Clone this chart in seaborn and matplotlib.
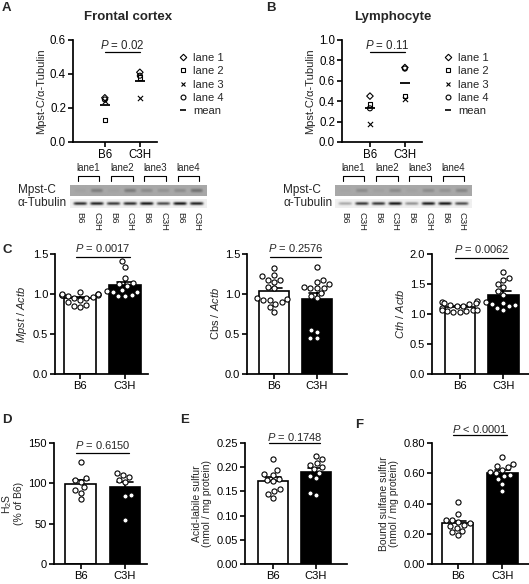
import numpy as np
import pandas as pd
import matplotlib
matplotlib.use("Agg")
import matplotlib.pyplot as plt
import matplotlib.transforms as mtransforms
from matplotlib.lines import Line2D
from matplotlib.ticker import FormatStrFormatter
import seaborn as sns

# ---------------- data ----------------
strains = ["B6", "C3H"]
lane_names = ["lane 1", "lane 2", "lane 3", "lane 4"]

# Panel A: Frontal cortex, Mpst-C/alpha-Tubulin per lane
cortex_b6 = [0.26, 0.13, 0.24, 0.25]
cortex_c3h = [0.41, 0.38, 0.26, 0.39]
cortex_p = r"$\it{P}$ = 0.02"

# Panel B: Lymphocyte
lympho_b6 = [0.45, 0.37, 0.18, 0.33]
lympho_c3h = [0.73, 0.45, 0.42, 0.72]
lympho_p = r"$\it{P}$ = 0.11"

# Western blot band intensities (relative darkness), lanes B6,C3H,B6,C3H,...
blot_groups = ["lane1", "lane2", "lane3", "lane4"]
blot_lane_labels = ["B6", "C3H", "B6", "C3H", "B6", "C3H", "B6", "C3H"]
cortex_mpst_band = [0.05, 0.30, 0.05, 0.32, 0.20, 0.15, 0.20, 0.38]
cortex_tub_band = [0.85, 0.90, 0.80, 0.85, 0.95, 0.72, 0.95, 0.90]
lympho_mpst_band = [0.03, 0.20, 0.06, 0.20, 0.05, 0.20, 0.15, 0.25]
lympho_tub_band = [0.30, 0.80, 0.80, 0.95, 0.40, 0.92, 0.95, 0.70]

# Panel C: qPCR
mpst_b6 = [1.00, 0.99, 0.99, 1.00, 1.03, 0.99, 0.98, 1.00, 0.96, 0.95, 0.93, 0.95, 0.90, 0.86, 0.84, 0.85]
mpst_c3h = [1.41, 1.34, 1.20, 1.14, 1.12, 1.10, 1.05, 1.03, 1.04, 1.02, 0.98, 0.98, 0.99]
mpst_p = r"$\it{P}$ = 0.0017"
cbs_b6 = [1.32, 1.24, 1.22, 1.18, 1.18, 1.15, 1.09, 1.07, 0.95, 0.94, 0.93, 0.92, 0.90, 0.88, 0.84, 0.78]
cbs_c3h = [1.34, 1.17, 1.15, 1.13, 1.09, 1.08, 1.07, 1.07, 1.01, 0.97, 0.95, 0.55, 0.53, 0.45, 0.45]
cbs_p = r"$\it{P}$ = 0.2576"
cth_b6 = [1.22, 1.20, 1.18, 1.17, 1.19, 1.15, 1.14, 1.13, 1.10, 1.06, 1.05, 1.04, 1.04, 1.05, 1.06, 1.07]
cth_c3h = [1.70, 1.60, 1.56, 1.50, 1.45, 1.38, 1.32, 1.20, 1.19, 1.17, 1.15, 1.13, 1.10, 1.07]
cth_p = r"$\it{P}$ = 0.0062"

# Panel D: H2S (% of B6)
h2s_b6 = [127, 107, 104, 102, 95, 92, 88, 80]
h2s_c3h = [113, 110, 108, 104, 102, 86, 84, 55]
h2s_p = r"$\it{P}$ = 0.6150"

# Panel E: acid-labile sulfur
acid_b6 = [0.217, 0.194, 0.186, 0.184, 0.176, 0.174, 0.171, 0.155, 0.150, 0.145, 0.137]
acid_c3h = [0.224, 0.216, 0.208, 0.205, 0.200, 0.196, 0.188, 0.182, 0.177, 0.147, 0.143]
acid_p = r"$\it{P}$ = 0.1748"

# Panel F: bound sulfane sulfur
bss_b6 = [0.41, 0.33, 0.29, 0.29, 0.28, 0.27, 0.26, 0.25, 0.24, 0.22, 0.21, 0.19]
bss_c3h = [0.71, 0.66, 0.65, 0.64, 0.62, 0.61, 0.60, 0.59, 0.58, 0.56, 0.53, 0.48]
bss_p = r"$\it{P}$ < 0.0001"

# ---------------- style ----------------
sns.set_theme(style="ticks")
plt.rcParams["font.family"] = ["Liberation Sans", "DejaVu Sans"]
plt.rcParams["mathtext.fontset"] = "custom"
plt.rcParams["mathtext.rm"] = "Liberation Sans"
plt.rcParams["mathtext.it"] = "Liberation Sans:italic"
plt.rcParams["mathtext.bf"] = "Liberation Sans:bold"

W, H = 529, 584
fig = plt.figure(figsize=(W / 100, H / 100), dpi=100)
fig.patch.set_facecolor("white")


def fbox(x0, y0, x1, y1):
    return [x0 / W, 1 - y1 / H, (x1 - x0) / W, (y1 - y0) / H]


def fx(x):
    return x / W


def fy(y):
    return 1 - y / H


def style_axes(ax, tsize=8):
    sns.despine(ax=ax)
    for s in ["left", "bottom"]:
        ax.spines[s].set_linewidth(1.25)
        ax.spines[s].set_color("black")
    ax.tick_params(axis="both", direction="out", length=3.5, width=1.2,
                   colors="black", labelsize=tsize, pad=1.5)
    ax.set_facecolor("white")


# ---------------- panels A, B ----------------
def dot_panel(rect, b6, c3h, ylim, yticks, ylabel, ptext, line_y, text_y, xlim, leg_x):
    ax = fig.add_axes(rect)
    markers = ["D", "s", "x", "o"]
    sizes = [11, 11, 14, 13]
    for i, m in enumerate(markers):
        vals = [b6[i], c3h[i]]
        if m == "x":
            ax.scatter(strains, vals, marker=m, s=sizes[i], c="black", linewidths=0.8, zorder=3)
        else:
            ax.scatter(strains, vals, marker=m, s=sizes[i], facecolors="none",
                       edgecolors="black", linewidths=0.8, zorder=3)
    means = [np.mean(b6), np.mean(c3h)]
    ax.scatter(strains, means, marker="_", s=55, c="black", linewidths=1.3, zorder=4)
    ax.set_xlim(*xlim)
    ax.set_ylim(*ylim)
    ax.set_yticks(yticks)
    ax.yaxis.set_major_formatter(FormatStrFormatter("%.1f"))
    ax.set_ylabel(ylabel, fontsize=8, labelpad=3)
    style_axes(ax, 8.3)
    ax.plot([0, 1], [line_y, line_y], color="black", lw=0.9, clip_on=False)
    ax.text(0.5, text_y, ptext, ha="center", va="center", fontsize=8.3)
    handles = [Line2D([], [], marker="D", ls="none", mfc="none", mec="black", ms=3.3, mew=0.8),
               Line2D([], [], marker="s", ls="none", mfc="none", mec="black", ms=3.3, mew=0.8),
               Line2D([], [], marker="x", ls="none", color="black", ms=3.5, mew=0.8),
               Line2D([], [], marker="o", ls="none", mfc="none", mec="black", ms=3.5, mew=0.8),
               Line2D([], [], marker="_", ls="none", color="black", ms=4.5, mew=1.2)]
    fig.legend(handles, lane_names + ["mean"], loc="upper left",
               bbox_to_anchor=(fx(leg_x), fy(53)), bbox_transform=fig.transFigure,
               frameon=False, fontsize=8, handlelength=0.8, handletextpad=0.5,
               labelspacing=0.3, borderpad=0, borderaxespad=0)
    return ax


dot_panel(fbox(73, 40, 157, 142), cortex_b6, cortex_c3h, (0, 0.6), [0, 0.2, 0.4, 0.6],
          r"Mpst-C/α-Tubulin", cortex_p, 0.53, 0.57, (-0.91, 1.49), 179)
dot_panel(fbox(342, 40, 422, 142), lympho_b6, lympho_c3h, (0, 1.0), [0, 0.2, 0.4, 0.6, 0.8, 1.0],
          r"Mpst-C/α-Tubulin", lympho_p, 0.88, 0.95, (-0.8, 1.49), 444)

fig.text(fx(128), fy(17), "Frontal cortex", ha="center", va="center", fontsize=9.5, fontweight="bold")
fig.text(fx(393), fy(17), "Lymphocyte", ha="center", va="center", fontsize=9.5, fontweight="bold")


# ---------------- blots ----------------
def blot(x0, x1, label_x, mpst, tub):
    n = len(mpst)
    xs = np.linspace(-0.6, n - 0.4, 220)
    ys = np.linspace(-1, 1, 30)
    X, Y = np.meshgrid(xs, ys)

    def img_from(vals, bg, depth, yw, xw):
        img = np.full(X.shape, bg)
        for i, v in enumerate(vals):
            img -= depth * v * np.exp(-((X - i) / xw) ** 6) * np.exp(-(Y / yw) ** 2)
        return np.clip(img, 0, 1)

    axm = fig.add_axes(fbox(x0, 185, x1, 196))
    axm.imshow(img_from(mpst, 0.66, 0.55, 0.35, 0.36), cmap="gray", vmin=0, vmax=1,
               aspect="auto", extent=(-0.6, n - 0.4, 1, -1), interpolation="bilinear")
    axm.axis("off")
    axt = fig.add_axes(fbox(x0, 199, x1, 208))
    axt.imshow(img_from(tub, 0.94, 0.9, 0.35, 0.40), cmap="gray", vmin=0, vmax=1,
               aspect="auto", extent=(-0.6, n - 0.4, 1, -1), interpolation="bilinear")
    axt.axis("off")

    tr = mtransforms.blended_transform_factory(axm.transData, fig.transFigure)
    for k, g in enumerate(blot_groups):
        a, b = 2 * k - 0.15, 2 * k + 1.15
        axm.plot([a, a, b, b], [fy(181), fy(176), fy(176), fy(181)], color="black",
                 lw=0.8, transform=tr, clip_on=False)
        axm.text(2 * k + 0.5, fy(168), g, transform=tr, ha="center", va="center", fontsize=7)
    for i, s in enumerate(blot_lane_labels):
        axm.text(i, fy(212), s, transform=tr, ha="center", va="top", rotation=270, fontsize=6.8)
    fig.text(fx(label_x), fy(190), "Mpst-C", ha="left", va="center", fontsize=8.5)
    fig.text(fx(label_x), fy(203.5), "α-Tubulin", ha="left", va="center", fontsize=8.5)


blot(70, 207, 18, cortex_mpst_band, cortex_tub_band)
blot(335, 472, 283, lympho_mpst_band, lympho_tub_band)


# ---------------- bar panels ----------------
def bar_panel(rect, b6, c3h, ylim, yticks, fmt, ylabel, ptext, line_y, text_y, xlim, ylsize=8):
    ax = fig.add_axes(rect)
    df = pd.DataFrame({"strain": ["B6"] * len(b6) + ["C3H"] * len(c3h), "val": list(b6) + list(c3h)})
    sns.barplot(data=df, x="strain", y="val", hue="strain", order=strains, hue_order=strains,
                palette={"B6": "white", "C3H": "black"}, edgecolor="black", linewidth=1.2,
                errorbar="se", capsize=0.35, width=0.7, legend=False, ax=ax,
                err_kws={"color": "black", "linewidth": 1.2, "zorder": 0.5})
    sns.swarmplot(data=df, x="strain", y="val", order=strains, color="white", edgecolor="black",
                  linewidth=0.8, size=3.7, ax=ax, zorder=3)
    ax.set_xlim(*xlim)
    ax.set_ylim(*ylim)
    ax.set_yticks(yticks)
    ax.yaxis.set_major_formatter(FormatStrFormatter(fmt))
    ax.set_xlabel("")
    ax.set_ylabel(ylabel, fontsize=ylsize, labelpad=3, linespacing=1.0)
    style_axes(ax, 8)
    ax.plot([-0.1, 1.1], [line_y, line_y], color="black", lw=0.9, clip_on=False)
    ax.text(0.5, text_y, ptext, ha="center", va="center", fontsize=8)
    return ax


bar_panel(fbox(55, 254, 148, 374), mpst_b6, mpst_c3h, (0, 1.5), [0, 0.5, 1.0, 1.5], "%.1f",
          r"$\it{Mpst}$ / $\it{Actb}$", mpst_p, 1.46, 1.57, (-0.556, 1.51))
bar_panel(fbox(247, 254, 347, 374), cbs_b6, cbs_c3h, (0, 1.5), [0, 0.5, 1.0, 1.5], "%.1f",
          r"Cbs / $\it{Actb}$", cbs_p, 1.46, 1.57, (-0.63, 1.70))
bar_panel(fbox(432, 254, 529, 374), cth_b6, cth_c3h, (0, 2.0), [0, 0.5, 1.0, 1.5, 2.0], "%.1f",
          r"$\it{Cth}$ / $\it{Actb}$", cth_p, 1.94, 2.09, (-0.64, 1.59))
bar_panel(fbox(54, 443, 147, 564), h2s_b6, h2s_c3h, (0, 150), [0, 50, 100, 150], "%d",
          "H$_2$S\n(% of B6)", h2s_p, 137.6, 147.5, (-0.61, 1.5), 7.5)
bar_panel(fbox(245, 443, 347, 564), acid_b6, acid_c3h, (0, 0.25), [0, 0.05, 0.10, 0.15, 0.20, 0.25], "%.2f",
          "Acid-labile sulfur\n(nmol / mg protein)", acid_p, 0.25, 0.263, (-0.65, 1.72), 7.5)
bar_panel(fbox(432, 443, 529, 564), bss_b6, bss_c3h, (0, 0.8), [0, 0.2, 0.4, 0.6, 0.8], "%.2f",
          "Bound sulfane sulfur\n(nmol / mg protein)", bss_p, 0.853, 0.89, (-0.58, 1.6), 7.5)

# panel letters
for letter, x, y in [("A", 6, 8), ("B", 271, 8), ("C", 7, 250), ("D", 7, 420),
                     ("E", 185, 420), ("F", 359, 425)]:
    fig.text(fx(x), fy(y), letter, ha="center", va="center", fontsize=9.5, fontweight="bold")

fig.savefig("out.png", dpi=100, facecolor="white")
